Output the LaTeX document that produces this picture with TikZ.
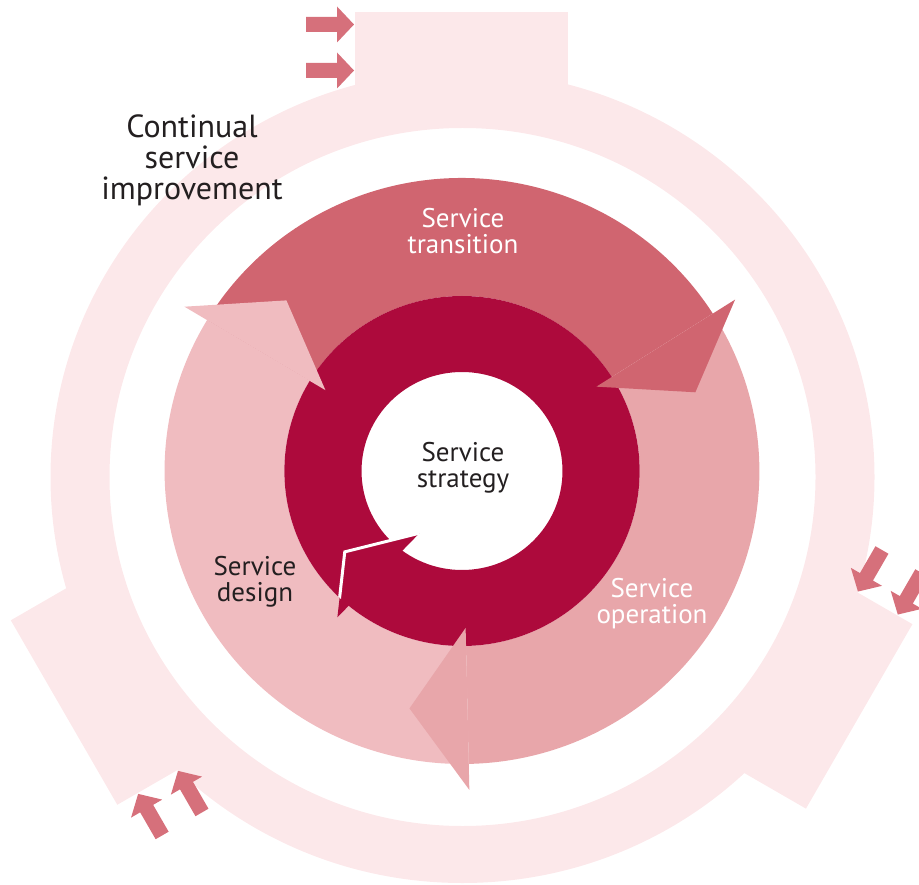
\documentclass[tikz,border=0pt]{standalone}
\usepackage{fontspec}
\setmainfont{PT Sans}
\usepackage{tikz}
\definecolor{csipink}{HTML}{FCE8EA}
\definecolor{csiarrow}{HTML}{D6707B}
\definecolor{transcol}{HTML}{D06570}
\definecolor{opercol}{HTML}{E8A6AA}
\definecolor{designcol}{HTML}{F0BCC0}
\definecolor{stratcol}{HTML}{AD0A3C}
\definecolor{labelgrey}{HTML}{231F20}
\tikzset{ring label/.style = {align=center, inner sep=0pt, text=labelgrey,
                              font=\fontsize{13.5}{13}\selectfont}}
\tikzset{white label/.style = {ring label, text=white}}
\tikzset{csi label/.style = {align=center, inner sep=0pt, text=labelgrey,
                             font=\fontsize{16}{15.5}\selectfont}}
\tikzset{small arrow/.style = {fill=csiarrow}}

\begin{document}
\begin{tikzpicture}[x=0.5pt, y=0.5pt]
    \useasboundingbox (0,0) rectangle (919,884);
    \coordinate (hub) at (462,413);
    \coordinate (csi) at (462.5,407);
    \fill [csipink, even odd rule] (csi) ellipse [x radius=412, y radius=406]
                                   (csi) ellipse [x radius=353, y radius=349];
    \foreach \r/\cx/\cy/\d in {0/463/407/0, -120/457/405/5, 120/465/407/11} {
        \begin{scope}[rotate around={\r:(\cx,\cy)}]
            \fill [csipink] (355,784) rectangle (568,872);
            \foreach \y in {859.5,813.5}
                \fill [small arrow, shift={(0,-\d)}] (306,\y-7.5) -- (337,\y-7.5) -- (337,\y-18)
                    -- (354,\y) -- (337,\y+18) -- (337,\y+7.5) -- (306,\y+7.5) -- cycle;
        \end{scope}
    }
    \begin{scope}[shift={(hub)}, xscale=1.015]
        \foreach \a/\b/\col in {149/32.5/transcol, 32.5/-88.7/opercol, 271.3/149/designcol}
            \fill [\col] (\a:175) arc [start angle=\a, end angle=\b, radius=175]
                -- (\b:293) arc [start angle=\b, end angle=\a, radius=293] -- cycle;
        \fill [stratcol, even odd rule] (0,0) circle [radius=175] (0,0) circle [radius=99];
        \fill [stratcol] (215:141) -- (236:75) -- (230:191) -- cycle;
        \begin{scope}
            \clip (0,0) circle [radius=175];
            \draw [white, line width=1.5pt] (236:75) -- (215:141) -- (230:191);
        \end{scope}
        \foreach \b/\col in {32.5/transcol, -88.7/opercol, 149/designcol}
            \fill [\col] (\b:157) -- (\b:319) -- (\b-13.6:243) -- cycle;
    \end{scope}
    \node [white label] (transition) at (463,653) {Service\\transition};
    \node [white label] (operation) at (652,280) {Service\\operation};
    \node [ring label] (design) at (255,302) {Service\\design};
    \node [ring label] (strategy) at (463,416) {Service\\strategy};
    \node [csi label] (improvement) at (192,724) {Continual\\service\\improvement};
\end{tikzpicture}
\end{document}
